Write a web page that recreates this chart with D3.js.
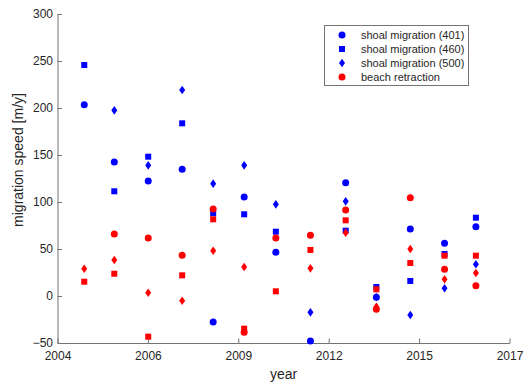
<!DOCTYPE html>
<html>
<head>
<meta charset="utf-8">
<script src="https://cdn.jsdelivr.net/npm/d3@7"></script>
<style>
  html, body { margin: 0; padding: 0; background: #fff; }
  svg { display: block; font-family: "Liberation Sans", Arial, sans-serif; }
</style>
</head>
<body>
<svg id="chart" width="528" height="383"></svg>
<script>
// Survey dates (decimal years)
const years = [2004.82, 2005.74, 2006.78, 2007.82, 2008.77, 2009.72, 2010.69,
               2011.75, 2012.83, 2013.77, 2014.81, 2015.86, 2016.82];

// Shoal migration speed [m/y] at the three transects
const shoal401 = [203.5, 142.6, 122.3, 134.8, -27.7, 105.3, 46.5, -47.9, 120.6, -1.4, 71.3, 56, 73.8];
const shoal460 = [245.7, 111.4, 148.2, 183.7, 88, 86.9, 68.4, null, 69.5, 9.6, 16, 44.7, 83.3];
const shoal500 = [null, 197.5, 139, 219.1, 119.5, 139, 97.5, -17.4, 100.7, -1, -20.2, 8.2, 33.7];

// Beach retraction speed [m/y] at the same transects
const beach401 = [null, 66, 61.7, 43.3, 92.6, -38.6, 61.7, 64.6, 91.5, -14.2, 104.6, 28.4, 11];
const beach460 = [15.2, 23.7, -43.3, 22, 81.6, -34.8, 5, 49, 80.5, 7.1, 35.1, 42.9, 42.9];
const beach500 = [29, 38.3, 3.5, -5, 48.2, 30.9, null, 29.4, 67.4, -11.5, 50, 17.8, 24.5];

// Axis ticks
const yTicks = [-50, 0, 50, 100, 150, 200, 250, 300];
const xTickStart = 2004;
const xTickStep = 2.77;   // date ticks are evenly spaced, labelled by year
const xTickCount = 6;

// Legend entries
const legendLabels = ["shoal migration (401)", "shoal migration (460)",
                      "shoal migration (500)", "beach retraction"];

const BLUE = "#0000ff", RED = "#ff0000";
const series = [
  { values: shoal401, color: BLUE, shape: "circle" },
  { values: shoal460, color: BLUE, shape: "square" },
  { values: shoal500, color: BLUE, shape: "diamond" },
  { values: beach401, color: RED, shape: "circle" },
  { values: beach460, color: RED, shape: "square" },
  { values: beach500, color: RED, shape: "diamond" }
];

const svg = d3.select("#chart");
const plotLeft = 57.5, plotRight = 509.5, plotTop = 14, plotBottom = 343;

const xTickValues = d3.range(xTickCount).map(k => xTickStart + k * xTickStep);
const x = d3.scaleLinear()
  .domain([xTickStart, xTickValues[xTickValues.length - 1]])
  .range([plotLeft, plotRight]);
const y = d3.scaleLinear().domain([-50, 300]).range([plotBottom, plotTop]);

const axisColor = "#737373", textColor = "#262626";

// Axes (ticks point inward)
const xAxis = d3.axisBottom(x).tickValues(xTickValues)
  .tickFormat(v => String(Math.floor(v + 1e-6))).tickSizeInner(-4.5).tickSizeOuter(0);
const yAxis = d3.axisLeft(y).tickValues(yTicks)
  .tickFormat(d3.format("d")).tickSizeInner(-4.5).tickSizeOuter(0);

const gx = svg.append("g").attr("transform", `translate(0,${plotBottom})`).call(xAxis);
const gy = svg.append("g").attr("transform", `translate(${plotLeft},0)`).call(yAxis);

[gx, gy].forEach(g => {
  g.select(".domain").attr("stroke", axisColor).attr("stroke-width", 1);
  g.selectAll(".tick line").attr("stroke", axisColor);
  g.selectAll(".tick text").attr("fill", textColor)
    .style("font-size", "12px").style("font-family", "Liberation Sans, Arial, sans-serif");
});
gx.selectAll(".tick text").attr("y", 8.5).attr("dy", "0.71em");
gy.selectAll(".tick text").attr("x", -4.5);

// Axis titles
svg.append("text")
  .attr("x", (plotLeft + plotRight) / 2).attr("y", 379)
  .attr("text-anchor", "middle").attr("fill", textColor)
  .style("font-size", "14px").text("year");
svg.append("text")
  .attr("transform", "translate(18,160) rotate(-90)")
  .attr("text-anchor", "middle").attr("dy", "0.35em").attr("fill", textColor)
  .style("font-size", "14px").text("migration speed [m/y]");

// Marker shapes
function marker(sel, shape, color) {
  if (shape === "circle") {
    return sel.append("circle").attr("r", 3.5).attr("fill", color);
  } else if (shape === "square") {
    return sel.append("rect").attr("x", -3).attr("y", -3)
      .attr("width", 6).attr("height", 6).attr("fill", color);
  }
  return sel.append("path").attr("d", "M0,-4.3L3,0L0,4.3L-3,0Z").attr("fill", color);
}

// Data markers
const plot = svg.append("g");
series.forEach(s => {
  const pts = years.map((yr, i) => ({ yr, v: s.values[i] })).filter(d => d.v !== null);
  pts.forEach(d => {
    const g = plot.append("g").attr("transform", `translate(${x(d.yr)},${y(d.v)})`);
    marker(g, s.shape, s.color);
  });
});

// Legend
const lg = svg.append("g");
lg.append("rect").attr("x", 324.5).attr("y", 25.5).attr("width", 144).attr("height", 60)
  .attr("fill", "#fff").attr("stroke", axisColor).attr("stroke-width", 1);
legendLabels.forEach((label, i) => {
  const cy = 35 + i * 14;
  const s = series[i];
  const g = lg.append("g").attr("transform", `translate(342,${cy})`);
  marker(g, s.shape, s.color);
  lg.append("text").attr("x", 361).attr("y", cy).attr("dy", "0.35em")
    .attr("fill", textColor).style("font-size", "11px").text(label);
});
</script>
</body>
</html>
